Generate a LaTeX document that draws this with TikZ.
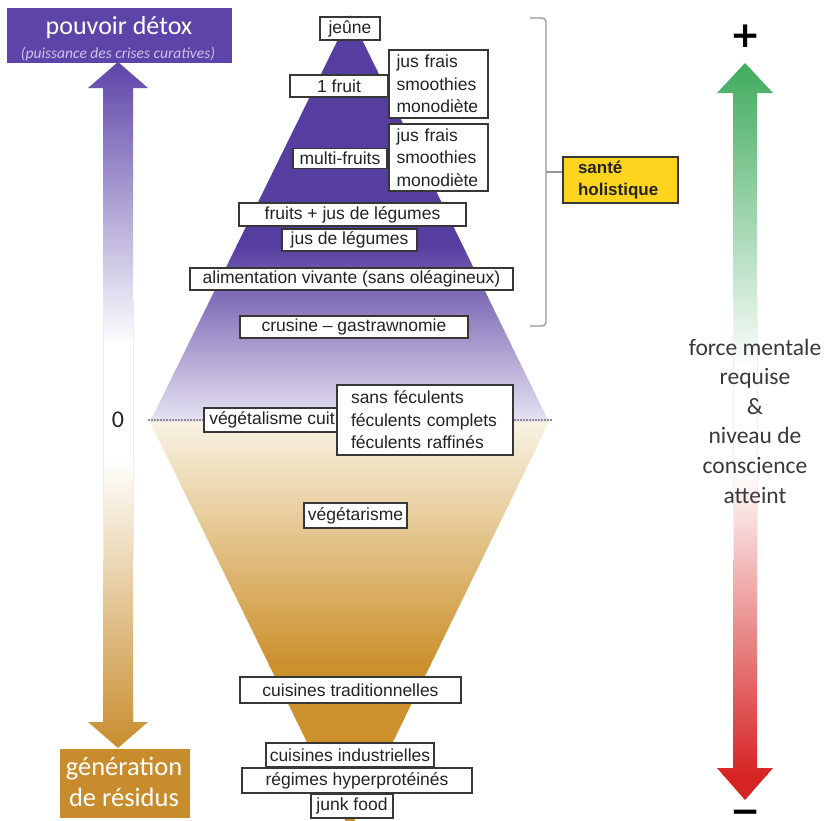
\documentclass[tikz,border=0pt]{standalone}
\usepackage{fontspec}
\setmainfont{Liberation Sans}
\newfontfamily\calfont{Carlito}
\newfontfamily\djfont{DejaVu Sans}
\definecolor{pur}{RGB}{86,62,160}
\definecolor{titlepur}{RGB}{92,68,168}
\definecolor{lav}{RGB}{232,228,243}
\definecolor{cream}{RGB}{249,243,228}
\definecolor{gold}{RGB}{204,144,44}
\definecolor{boxgold}{RGB}{200,140,45}
\definecolor{grn}{RGB}{62,170,92}
\definecolor{rd}{RGB}{214,36,36}
\definecolor{ylw}{RGB}{255,212,30}
\definecolor{bord}{RGB}{55,55,55}
\definecolor{txt}{RGB}{35,35,35}
\definecolor{brk}{RGB}{150,150,150}
\definecolor{subt}{RGB}{205,195,235}
\newcommand\boxfont{\fontsize{17.5}{22.5}\selectfont}
\tikzset{
  tbox/.style={draw=bord, line width=1.5, fill=white, inner sep=0pt, text=txt, font=\boxfont},
  lbox/.style={tbox, align=left},
}
\begin{document}
\begin{tikzpicture}[x=1pt,y=-1pt]
\useasboundingbox[fill=white] (0,0) rectangle (827,820);

% central diamond
\coordinate (dT) at (350,15);
\coordinate (dL) at (150,422);
\coordinate (dR) at (549,422);
\coordinate (dB) at (350,830);
\begin{scope}
  \clip (dT) -- (dR) -- (dL) -- cycle;
  \fill[pur] (140,0) rectangle (560,246);
  \shade[top color=pur, bottom color=lav] (140,245) rectangle (560,423);
\end{scope}
\begin{scope}
  \clip (dL) -- (dR) -- (dB) -- cycle;
  \shade[top color=cream, bottom color=gold] (140,421) rectangle (560,665);
  \fill[gold] (140,664) rectangle (560,830);
\end{scope}

% zero line
\coordinate (zl) at (148,420);
\coordinate (zr) at (552,420);
\draw[black!45, line width=1.2, dash pattern=on 1.5pt off 1.5pt] (zl) -- (zr);

% left double arrow
\begin{scope}
  \clip (118,62) -- (148,88) -- (133,88) -- (133,722) -- (148,722) -- (118,748) -- (88,722) -- (103,722) -- (103,88) -- (88,88) -- cycle;
  \shade[top color=titlepur, bottom color=white] (80,60) rectangle (160,345);
  \fill[white] (80,344) rectangle (160,461);
  \shade[top color=white, bottom color=boxgold] (80,460) rectangle (160,750);
\end{scope}
\draw[black!8, line width=0.6] (103,300) -- (103,560) (133,300) -- (133,560);

% right arrow
\begin{scope}
  \clip (745,63) -- (773,93) -- (757,93) -- (757,768) -- (773,768) -- (745,800) -- (717,768) -- (733,768) -- (733,93) -- (717,93) -- cycle;
  \shade[top color=grn, bottom color=white] (710,60) rectangle (780,370);
  \fill[white] (710,369) rectangle (780,471);
  \shade[top color=white, bottom color=rd] (710,470) rectangle (780,775);
  \fill[rd] (710,774) rectangle (780,805);
\end{scope}
\draw[black!6, line width=0.6] (733,300) -- (733,560) (757,300) -- (757,560);

\node[font=\djfont\bfseries\fontsize{36}{36}\selectfont, inner sep=0pt] (plus) at (745.5,36.5) {+};
\node[font=\djfont\bfseries\fontsize{36}{36}\selectfont, inner sep=0pt] (minus) at (745.5,817) {−};

\node[font=\calfont\fontsize{23.5}{29.6}\selectfont, text=txt!90, align=center] (force) at (755,421)
  {force mentale\\requise\\\&\\niveau de\\conscience\\atteint};

% title boxes
\node[fill=titlepur, minimum width=225, minimum height=55, inner sep=0pt] (title) at (119.5,35.5) {};
\node[font=\calfont\fontsize{26}{28}\selectfont, text=white, inner sep=0pt] (titletxt) at (119,27.5) {pouvoir détox};
\node[font=\calfont\itshape\fontsize{15.5}{17}\selectfont, text=subt, inner sep=0pt] (subtxt) at (118,54) {(puissance des crises curatives)};

\node[fill=boxgold, minimum width=130, minimum height=69, inner sep=0pt] (gen) at (125,783.5) {};
\node[font=\calfont\fontsize{26.5}{31}\selectfont, text=white, align=center, inner sep=0pt] (gentxt) at (124,782) {génération\\de résidus};

\node[font=\calfont\fontsize{24}{26}\selectfont, text=txt] (zero) at (118,420) {0};

% bracket and santé holistique
\node[draw=bord, line width=1.5, fill=ylw, font=\bfseries\fontsize{17}{22}\selectfont, text=txt,
      align=left, text width=85, inner xsep=15, inner ysep=0pt, minimum height=46] (sante) at (620.5,180) {santé\\holistique};
\coordinate (bt) at (530,18);
\coordinate (bb) at (530,326);
\coordinate (bm) at (546,172);
\draw[brk, line width=1.3, rounded corners=4] (bt) -- (546,18) -- (546,326) -- (bb);
\draw[brk, line width=1.3] (bm) -- (sante.west |- bm);

% food boxes
\node[tbox, minimum width=60, minimum height=23] (jeune) at (350,28.5) {jeûne};
\node[tbox, minimum width=98, minimum height=22] (fruit1) at (339,86) {1 fruit};
\node[lbox, text width=84, inner xsep=7.5, minimum height=68] (list1) at (438.5,84) {jus frais\\smoothies\\monodiète};
\node[tbox, minimum width=94, minimum height=20] (multi) at (340,158.3) {multi-fruits};
\node[lbox, text width=84, inner xsep=7.5, minimum height=67] (list2) at (438.5,157.5) {jus frais\\smoothies\\monodiète};
\node[tbox, minimum width=227, minimum height=23] (fjl) at (352.5,214.5) {fruits + jus de légumes};
\node[tbox, minimum width=135, minimum height=22] (jl) at (349.5,240) {jus de légumes};
\node[tbox, minimum width=323, minimum height=22] (aliv) at (351.5,279) {alimentation vivante (sans oléagineux)};
\node[tbox, minimum width=228, minimum height=22] (crus) at (354,327) {crusine – gastrawnomie};
\node[tbox, minimum width=136, minimum height=24] (vcuit) at (272,420) {végétalisme cuit};
\node[lbox, text width=148, inner xsep=14, minimum height=70] (list3) at (425,420) {sans féculents\\féculents complets\\féculents raffinés};
\node[tbox, minimum width=103, minimum height=25] (vgt) at (355.5,515.5) {végétarisme};
\node[tbox, minimum width=221, minimum height=26] (ctrad) at (350.5,690) {cuisines traditionnelles};
\node[tbox, minimum width=168, minimum height=24] (cind) at (350,755) {cuisines industrielles};
\node[tbox, minimum width=230, minimum height=25] (rhp) at (357,780.5) {régimes hyperprotéinés};
\node[tbox, minimum width=82, minimum height=24] (junk) at (352,806) {junk food};
\end{tikzpicture}
\end{document}
